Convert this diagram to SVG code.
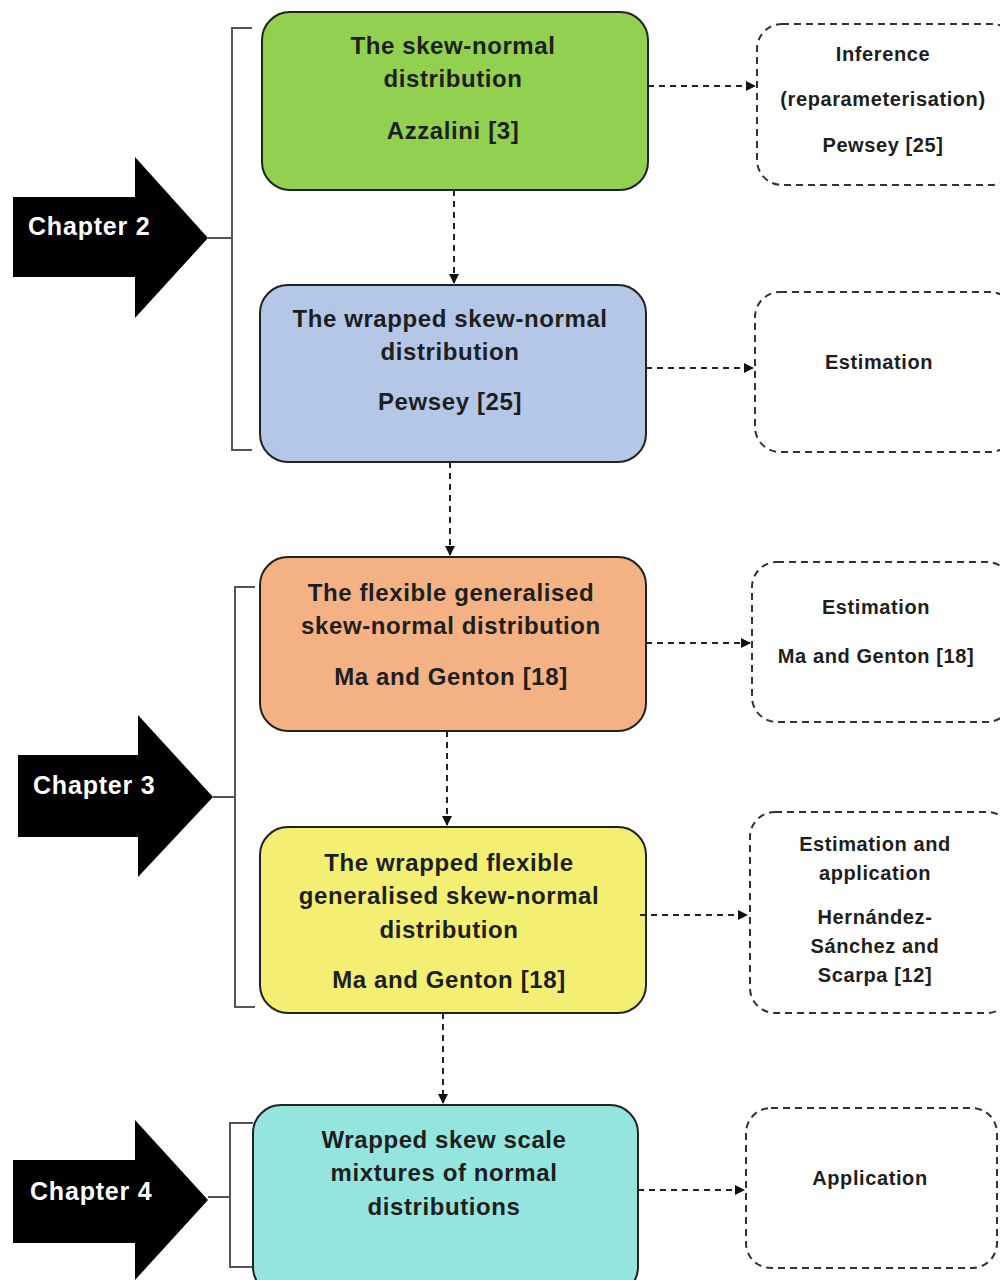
<svg xmlns="http://www.w3.org/2000/svg" width="1000" height="1280" viewBox="0 0 1000 1280">
<style>
.node{stroke:#222;stroke-width:2}
.side{fill:#fff;stroke:#333;stroke-width:2;stroke-dasharray:7,5}
.t{font-family:"Liberation Sans",Arial,sans-serif;font-weight:bold;font-size:24px;letter-spacing:0.6px;fill:#1e1e1e;text-anchor:middle;dominant-baseline:central}
.s{font-family:"Liberation Sans",Arial,sans-serif;font-weight:bold;font-size:20px;letter-spacing:0.6px;fill:#1e1e1e;text-anchor:middle;dominant-baseline:central}
.ch{font-family:"Liberation Sans",Arial,sans-serif;font-weight:bold;font-size:25px;letter-spacing:0.8px;fill:#fff;dominant-baseline:central}
.con{fill:none;stroke:#222;stroke-width:2;stroke-dasharray:6,5}
.br{fill:none;stroke:#555;stroke-width:2}
</style>
<defs>
<marker id="ah" viewBox="0 0 10 10" refX="9" refY="5" markerWidth="5" markerHeight="5" orient="auto" markerUnits="strokeWidth">
<path d="M0,0 L10,5 L0,10 z" fill="#111"/>
</marker>
</defs>
<rect width="1000" height="1280" fill="#fff"/>

<g id="chapter2">
<polygon points="13,197 135,197 135,157 208,238 135,318 135,277 13,277" fill="#000"/>
<text class="ch" x="28" y="226">Chapter 2</text>
<path class="br" d="M252,28 H232 V450 H252 M208,238 H232"/>
</g>
<g id="chapter3">
<polygon points="18,755 138,755 138,715 213,797 138,877 138,837 18,837" fill="#000"/>
<text class="ch" x="33" y="785">Chapter 3</text>
<path class="br" d="M255,587 H235 V1007 H255 M213,797 H235"/>
</g>
<g id="chapter4">
<polygon points="13,1160 135,1160 135,1120 208,1200 135,1280 135,1243 13,1243" fill="#000"/>
<text class="ch" x="30" y="1191">Chapter 4</text>
<path class="br" d="M253,1123 H230 V1267 H253 M208,1197 H230"/>
</g>

<g id="n1">
<rect class="node" x="262" y="12" width="386" height="178" rx="28" fill="#92d050"/>
<text class="t" x="453" y="45">The skew-normal</text>
<text class="t" x="453" y="78">distribution</text>
<text class="t" x="453" y="130">Azzalini [3]</text>
</g>
<g id="n2">
<rect class="node" x="260" y="285" width="386" height="177" rx="28" fill="#b4c7e7"/>
<text class="t" x="450" y="318">The wrapped skew-normal</text>
<text class="t" x="450" y="351">distribution</text>
<text class="t" x="450" y="401">Pewsey [25]</text>
</g>
<g id="n3">
<rect class="node" x="260" y="557" width="386" height="174" rx="28" fill="#f4b183"/>
<text class="t" x="451" y="592">The flexible generalised</text>
<text class="t" x="451" y="625">skew-normal distribution</text>
<text class="t" x="451" y="676">Ma and Genton [18]</text>
</g>
<g id="n4">
<rect class="node" x="260" y="827" width="386" height="186" rx="28" fill="#f2ef73"/>
<text class="t" x="449" y="862">The wrapped flexible</text>
<text class="t" x="449" y="895">generalised skew-normal</text>
<text class="t" x="449" y="929">distribution</text>
<text class="t" x="449" y="979">Ma and Genton [18]</text>
</g>
<g id="n5">
<rect class="node" x="253" y="1105" width="385" height="190" rx="28" fill="#94e5dd"/>
<text class="t" x="444" y="1139">Wrapped skew scale</text>
<text class="t" x="444" y="1172">mixtures of normal</text>
<text class="t" x="444" y="1206">distributions</text>
</g>

<g id="r1">
<rect class="side" x="757" y="24" width="260" height="161" rx="25"/>
<text class="s" x="883" y="54">Inference</text>
<text class="s" x="883" y="99">(reparameterisation)</text>
<text class="s" x="883" y="145">Pewsey [25]</text>
</g>
<g id="r2">
<rect class="side" x="755" y="292" width="260" height="160" rx="25"/>
<text class="s" x="879" y="362">Estimation</text>
</g>
<g id="r3">
<rect class="side" x="752" y="562" width="260" height="160" rx="25"/>
<text class="s" x="876" y="607">Estimation</text>
<text class="s" x="876" y="656">Ma and Genton [18]</text>
</g>
<g id="r4">
<rect class="side" x="750" y="812" width="262" height="201" rx="25"/>
<text class="s" x="875" y="844">Estimation and</text>
<text class="s" x="875" y="873">application</text>
<text class="s" x="875" y="917">Hernández-</text>
<text class="s" x="875" y="946">Sánchez and</text>
<text class="s" x="875" y="975">Scarpa [12]</text>
</g>
<g id="r5">
<rect class="side" x="746" y="1108" width="251" height="160" rx="25"/>
<text class="s" x="870" y="1178">Application</text>
</g>

<g id="connectors">
<path class="con" d="M648,86 H755" marker-end="url(#ah)"/>
<path class="con" d="M646,368 H753" marker-end="url(#ah)"/>
<path class="con" d="M646,643 H750" marker-end="url(#ah)"/>
<path class="con" d="M640,915 H747" marker-end="url(#ah)"/>
<path class="con" d="M638,1190 H744" marker-end="url(#ah)"/>
<path class="con" d="M454,190 V283" marker-end="url(#ah)"/>
<path class="con" d="M450,462 V555" marker-end="url(#ah)"/>
<path class="con" d="M447,731 V825" marker-end="url(#ah)"/>
<path class="con" d="M443,1013 V1103" marker-end="url(#ah)"/>
</g>
</svg>
